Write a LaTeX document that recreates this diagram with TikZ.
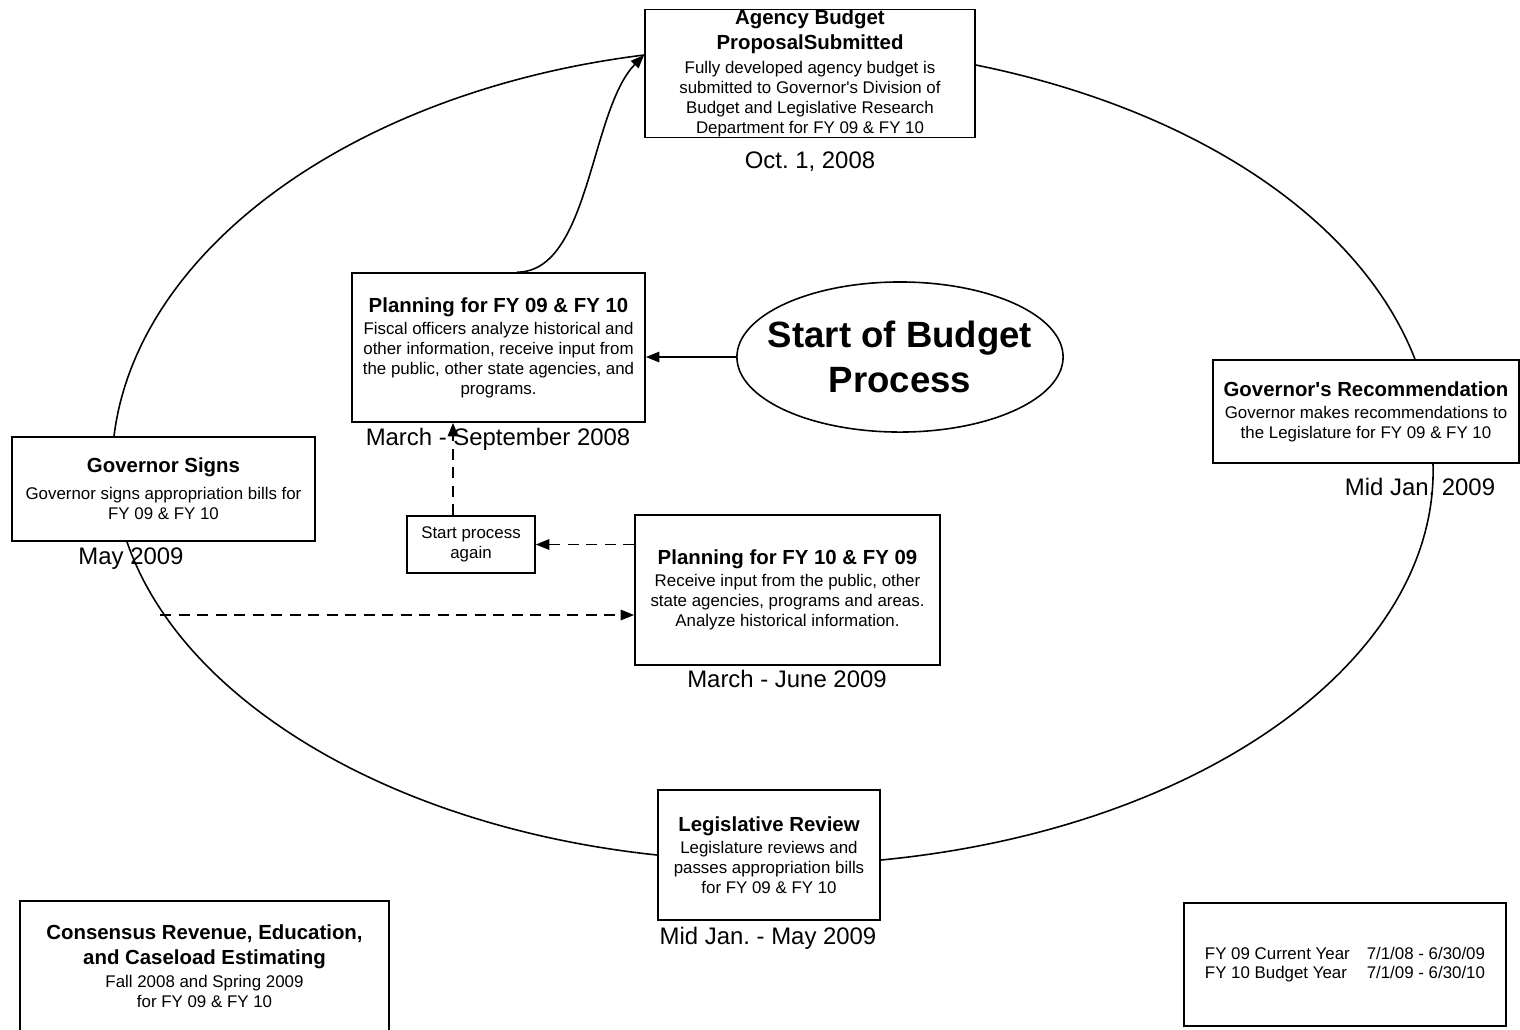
\documentclass[tikz,border=0pt]{standalone}
\usepackage{fontspec}
\setmainfont{Liberation Sans}
\usetikzlibrary{arrows.meta,shapes.geometric,positioning}
\frenchspacing

\newcommand\stagebody{\fontsize{4.8}{5.7}\selectfont}
\newcommand\stagehead{\bfseries\fontsize{5.8}{6.8}\selectfont}
\newcommand\stagedate{\fontsize{6.8}{8}\selectfont}
\newcommand\starttitle{\bfseries\fontsize{10.4}{12.8}\selectfont}
\newcommand\apos{\textquotesingle}

\tikzset{
  stagebox/.style={draw,line width=0.45pt,inner sep=0pt,align=center,font=\stagebody},
  datelabel/.style={font=\stagedate,inner sep=0pt,anchor=base},
  loopline/.style={line width=0.45pt},
  flowarrow/.style={line width=0.45pt,-{Triangle[length=1.35mm,width=1.05mm]}},
  backarrow/.style={flowarrow,dash pattern=on 1.1mm off 0.75mm}
}

\begin{document}
\begin{tikzpicture}[x=0.01cm,y=-0.01cm]
	\useasboundingbox (0,0) rectangle (1520,1029);

	% stages on the loop
	\node[stagebox,minimum width=3.3cm,minimum height=1.27cm] (agency) at (810,73.5)
		{{\stagehead Agency Budget}\\[1.4pt]{\stagehead ProposalSubmitted}\\[1.2pt]
		Fully developed agency budget is\\submitted to Governor\apos s Division of\\
		Budget and Legislative Research\\Department for FY 09 \& FY 10};
	\node[stagebox,minimum width=3.06cm,minimum height=1.03cm] (govrec) at (1366,411.5)
		{{\stagehead Governor\apos s Recommendation}\\[0.6pt]
		Governor makes recommendations to\\the Legislature for FY 09 \& FY 10};
	\node[stagebox,minimum width=2.22cm,minimum height=1.3cm] (legis) at (769,855)
		{{\stagehead Legislative Review}\\[0.6pt]
		Legislature reviews and\\passes appropriation bills\\for FY 09 \& FY 10};
	\node[stagebox,minimum width=3.03cm,minimum height=1.04cm] (gsign) at (163.5,489)
		{{\stagehead Governor Signs}\\[2pt]
		Governor signs appropriation bills for\\FY 09 \& FY 10};

	% planning inside the loop
	\node[stagebox,minimum width=2.93cm,minimum height=1.49cm] (plan1) at (498.5,347.5)
		{{\stagehead Planning for FY 09 \& FY 10}\\[0.6pt]
		Fiscal officers analyze historical and\\other information, receive input from\\
		the public, other state agencies, and\\programs.};
	\node[draw,ellipse,line width=0.45pt,inner xsep=-0.2cm,inner ysep=0.1cm,align=center,
		font=\starttitle,minimum width=3.26cm,minimum height=1.5cm] (start) at (900,357)
		{Start of Budget\\Process};
	\node[stagebox,minimum width=3.05cm,minimum height=1.5cm] (plan2) at (787.5,590)
		{{\stagehead Planning for FY 10 \& FY 09}\\[0.6pt]
		Receive input from the public, other\\state agencies, programs and areas.\\
		Analyze historical information.};
	\node[stagebox,minimum width=1.28cm,minimum height=0.57cm] (again) at (471,544.5)
		{Start process\\again};

	% side boxes
	\node[stagebox,minimum width=3.69cm,minimum height=1.3cm] (consens) at (204.5,966)
		{{\stagehead Consensus Revenue, Education,}\\[1.3pt]{\stagehead and Caseload Estimating}\\[0.8pt]
		Fall 2008 and Spring 2009\\for FY 09 \& FY 10};
	\node[stagebox,minimum width=3.22cm,minimum height=1.23cm] (fyears) at (1345,964.5)
		{\begin{tabular}{@{}l@{\hspace{0.17cm}}l@{}}
		FY 09 Current Year & 7/1/08 - 6/30/09\\[-0.3pt]
		FY 10 Budget Year & 7/1/09 - 6/30/10
		\end{tabular}};

	% dates
	\node[datelabel] (dagency) at (810,168) {Oct. 1, 2008};
	\node[datelabel] (dplan1) at (498,445) {March - September 2008};
	\node[datelabel] (dgovrec) at (1420,495) {Mid Jan. 2009};
	\node[datelabel] (dgsign) at (131,564) {May 2009};
	\node[datelabel] (dplan2) at (787,687) {March - June 2009};
	\node[datelabel] (dlegis) at (768,944) {Mid Jan. - May 2009};

	% the loop
	\draw[loopline] (114,0 |- gsign.north) .. controls (137,249) and (354,91) .. (agency.west |- 0,55);
	\draw[loopline] (agency.east |- 0,65) .. controls (1193,109) and (1360,218) .. (1415,0 |- govrec.north);
	\draw[loopline] (1433,0 |- govrec.south) .. controls (1439,658) and (1204,829) .. (legis.east |- 0,860);
	\draw[loopline] (legis.west |- 0,855) .. controls (391,827) and (181,700) .. (127,0 |- gsign.south);
	\coordinate (loopcut) at (160,615);

	% arrows
	\draw[flowarrow] (start.west) -- (start.west -| plan1.east);
	\draw[flowarrow] (517,0 |- plan1.north) .. controls (590,272) and (590,110) .. (agency.west |- 0,55);
	\draw[backarrow] (again.east -| plan2.west) -- (again.east);
	\draw[backarrow] (453,0 |- again.north) -- (453,0 |- plan1.south);
	\draw[backarrow] (loopcut) -- (loopcut -| plan2.west);
\end{tikzpicture}
\end{document}
